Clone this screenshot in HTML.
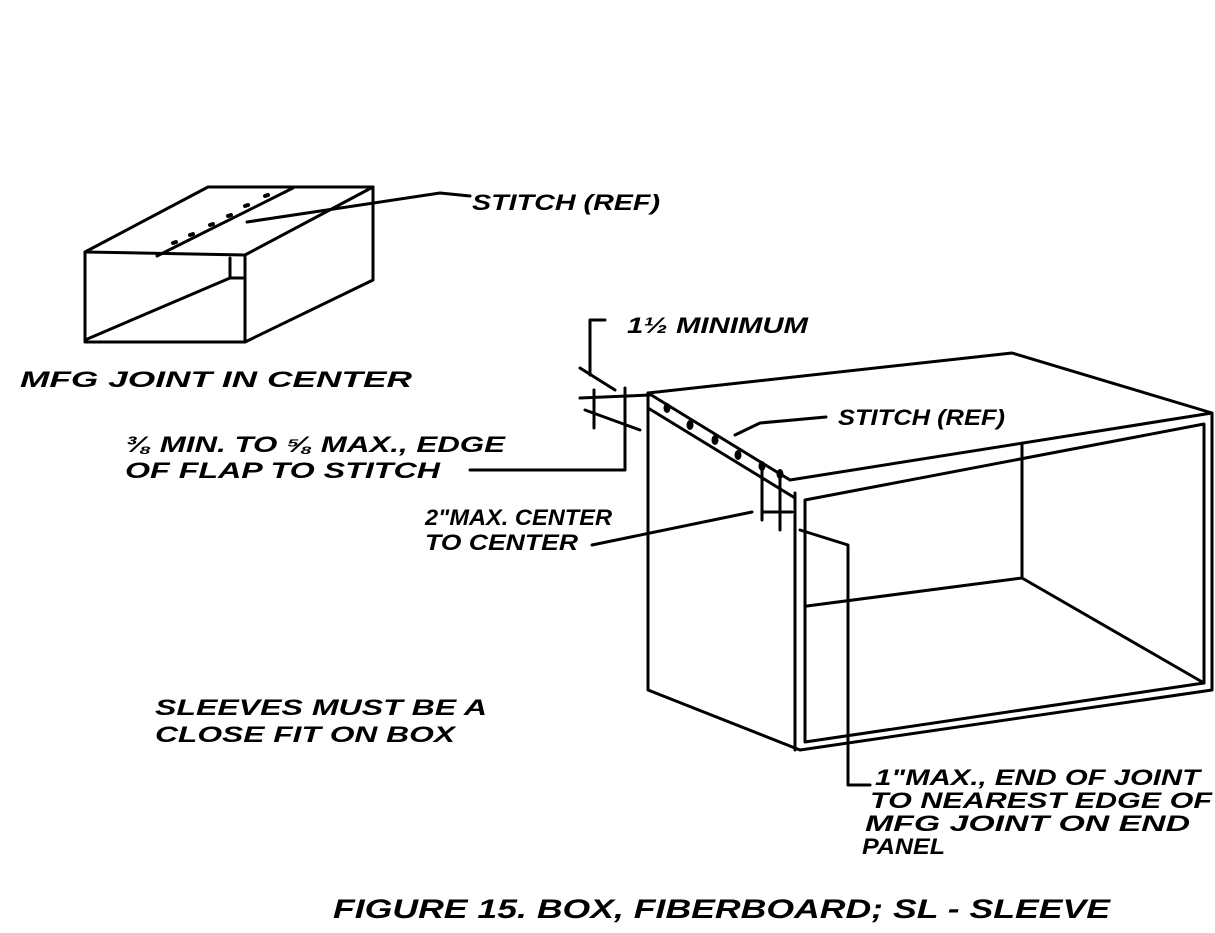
<!DOCTYPE html>
<html><head><meta charset="utf-8"><style>
body{margin:0;background:#fff;width:1215px;height:933px;overflow:hidden}
svg{display:block}
text{font-family:"Liberation Sans",sans-serif;font-style:italic;font-weight:bold;fill:#000}
</style></head><body>
<svg width="1215" height="933" viewBox="0 0 1215 933" xmlns="http://www.w3.org/2000/svg">
<g stroke="#000" stroke-width="3" fill="none" stroke-linecap="round" stroke-linejoin="round">
<path d="M85,252 L208,187 L373,187 L373,280 L245,342 L85,342 Z"/>
<path d="M85,252 L245,255 L245,342"/>
<path d="M245,255 L373,187"/>
<path d="M230,258 L230,278 L243,278"/>
<path d="M85,340 L230,278"/>
<path d="M157,256 L293,188"/>
<path d="M247,222 L440,193 L470,196"/>
<g stroke-width="4"><path d="M173,243 l3,-1 M190,235 l3,-1 M210,225 l3,-1 M228,216 l3,-1 M245,206 l3,-1 M265,196 l3,-1"/></g>
<path d="M648,393 L1012,353 L1212,413 L1212,690 L800,750 L648,690 Z"/>
<path d="M648,393 L648,408 L795,498"/>
<path d="M648,393 L790,480 L1212,413"/>
<path d="M795,493 L795,750"/>
<path d="M805,500 L1204,424 L1204,683 L805,742 Z"/>
<path d="M1022,445 L1022,578 L807,606 M1022,578 L1204,683"/>
<g fill="#000" stroke="none">
<ellipse cx="667" cy="408" rx="3.5" ry="5"/><ellipse cx="690" cy="425" rx="3.5" ry="5"/>
<ellipse cx="715" cy="440" rx="3.5" ry="5"/><ellipse cx="738" cy="455" rx="3.5" ry="5"/>
<ellipse cx="762" cy="466" rx="3.5" ry="5"/><ellipse cx="780" cy="474" rx="3.5" ry="5"/>
</g>
<path d="M762,470 L762,520 M780,478 L780,530 M762,512 L792,512"/>
<path d="M605,320 L590,320 L590,375"/>
<path d="M580,368 L615,390 M585,410 L640,430 M580,398 L650,395"/>
<path d="M625,388 L625,470 L470,470"/>
<path d="M594,390 L594,428"/>
<path d="M826,417 L760,423 L735,435"/>
<path d="M592,545 L752,512"/>
<path d="M800,530 L848,545 L848,785 L870,785"/>
</g>
<g font-size="22" lengthAdjust="spacingAndGlyphs">
<text x="472" y="210" textLength="188" lengthAdjust="spacingAndGlyphs">STITCH (REF)</text>
<text x="20" y="387" textLength="392" lengthAdjust="spacingAndGlyphs">MFG  JOINT  IN CENTER</text>
<text x="627" y="333" textLength="181" lengthAdjust="spacingAndGlyphs">1½ MINIMUM</text>
<text x="838" y="425" textLength="167" lengthAdjust="spacingAndGlyphs">STITCH (REF)</text>
<text x="125" y="452" textLength="380" lengthAdjust="spacingAndGlyphs">⅜ MIN. TO  ⅝ MAX., EDGE</text>
<text x="125" y="478" textLength="315" lengthAdjust="spacingAndGlyphs">OF FLAP TO STITCH</text>
<text x="425" y="525" textLength="187" lengthAdjust="spacingAndGlyphs">2"MAX. CENTER</text>
<text x="425" y="550" textLength="153" lengthAdjust="spacingAndGlyphs">TO CENTER</text>
<text x="155" y="715" textLength="332" lengthAdjust="spacingAndGlyphs">SLEEVES  MUST BE A</text>
<text x="155" y="742" textLength="300" lengthAdjust="spacingAndGlyphs">CLOSE FIT ON BOX</text>
<text x="875" y="785" textLength="325" lengthAdjust="spacingAndGlyphs">1"MAX., END OF JOINT</text>
<text x="870" y="808" textLength="342" lengthAdjust="spacingAndGlyphs">TO NEAREST EDGE OF</text>
<text x="865" y="831" textLength="325" lengthAdjust="spacingAndGlyphs">MFG JOINT ON END</text>
<text x="862" y="854" textLength="83" lengthAdjust="spacingAndGlyphs">PANEL</text>
<text x="333" y="918" font-size="27" textLength="777" lengthAdjust="spacingAndGlyphs">FIGURE 15.   BOX, FIBERBOARD;  SL - SLEEVE</text>
</g>
</svg>
</body></html>
